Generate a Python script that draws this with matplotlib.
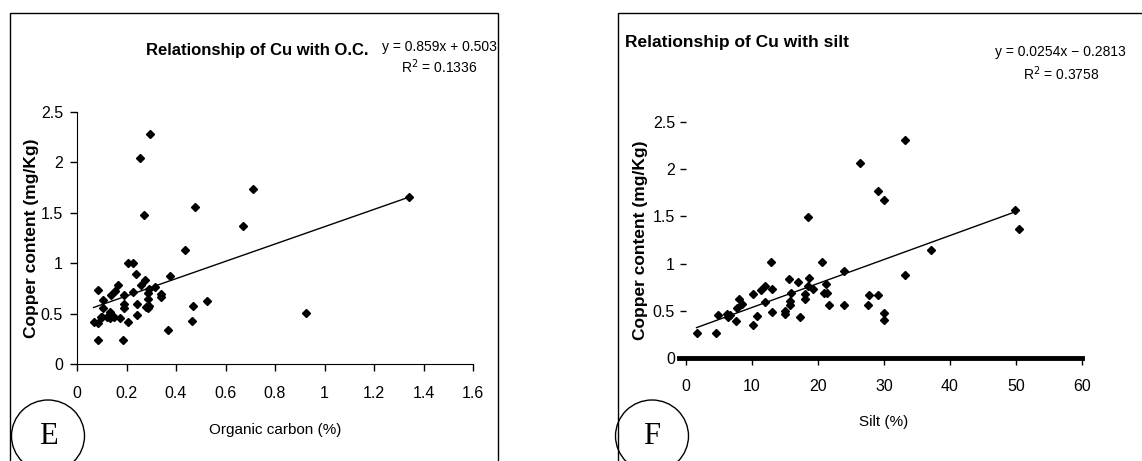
import numpy as np
import matplotlib
matplotlib.use("Agg")
from matplotlib import pyplot as plt
from matplotlib.patches import Rectangle, Ellipse

# panel E : copper vs organic carbon
oc = [0.295, 0.255, 0.269, 0.71, 0.477, 0.669, 0.435, 1.341, 0.927, 0.524,
      0.467, 0.466, 0.368, 0.374, 0.338, 0.338, 0.315, 0.288, 0.288, 0.285,
      0.277, 0.273, 0.26, 0.237, 0.225, 0.205, 0.242, 0.244, 0.205, 0.189,
      0.189, 0.189, 0.187, 0.226, 0.166, 0.174, 0.155, 0.136, 0.135, 0.135,
      0.15, 0.105, 0.105, 0.098, 0.085, 0.085, 0.084, 0.067, 0.29, 0.29,
      0.12, 0.1]
cu_oc = [2.28, 2.04, 1.48, 1.74, 1.56, 1.37, 1.13, 1.66, 0.505, 0.627,
         0.58, 0.43, 0.34, 0.874, 0.69, 0.66, 0.76, 0.70, 0.64, 0.56,
         0.57, 0.83, 0.78, 0.894, 1.0, 1.0, 0.6, 0.49, 0.415, 0.686,
         0.60, 0.554, 0.24, 0.71, 0.785, 0.46, 0.726, 0.68, 0.52, 0.455,
         0.465, 0.63, 0.554, 0.465, 0.73, 0.24, 0.405, 0.415, 0.74, 0.58,
         0.47, 0.47]
fit_oc = [0.859, 0.503]
eq_oc = ["y = 0.859x + 0.503", "R$^2$ = 0.1336"]
ticks_oc = ["0", "0.2", "0.4", "0.6", "0.8", "1", "1.2", "1.4", "1.6"]

# panel F : copper vs silt
silt = [33.2, 26.4, 29.1, 30.0, 18.5, 49.9, 50.4, 37.1, 33.2, 12.9,
        20.6, 24.0, 21.2, 21.3, 20.9, 21.6, 24.0, 27.7, 29.1, 27.5,
        30.0, 30.0, 17.2, 18.6, 19.2, 18.5, 18.1, 18.1, 16.9, 15.6,
        15.8, 15.8, 15.9, 15.0, 15.0, 13.1, 13.0, 12.0, 11.4, 12.0,
        10.2, 10.7, 10.1, 8.5, 8.1, 7.7, 7.5, 6.6, 6.3, 6.2,
        4.8, 4.6, 1.6]
cu_silt = [2.31, 2.07, 1.77, 1.67, 1.49, 1.57, 1.37, 1.14, 0.88, 1.02,
           1.02, 0.92, 0.785, 0.687, 0.687, 0.56, 0.56, 0.67, 0.67, 0.56,
           0.475, 0.40, 0.433, 0.845, 0.73, 0.76, 0.676, 0.62, 0.80, 0.84,
           0.60, 0.56, 0.69, 0.50, 0.47, 0.735, 0.49, 0.76, 0.72, 0.59,
           0.676, 0.44, 0.345, 0.574, 0.627, 0.528, 0.394, 0.458, 0.433, 0.468,
           0.458, 0.264, 0.264]
fit_silt = [0.0254, 0.2813]
eq_silt = ["y = 0.0254x \u2212 0.2813", "R$^2$ = 0.3758"]
ticks_silt = ["0", "10", "20", "30", "40", "50", "60"]

cu_ticks = ["0", "0.5", "1", "1.5", "2", "2.5"]

plt.rcParams["font.family"] = ["Liberation Sans", "DejaVu Sans"]

W, H = 1142, 461
fig = plt.figure(figsize=(W / 100, H / 100), dpi=100)


def fx(px):
    return px / W


def fy(py):
    return 1 - py / H


# outer frames
fig.patches.append(Rectangle((fx(10), fy(470)), fx(488), fy(13) - fy(470),
                             transform=fig.transFigure, fill=False, lw=1, ec="black"))
fig.patches.append(Rectangle((fx(618), fy(470)), fx(560), fy(13) - fy(470),
                             transform=fig.transFigure, fill=False, lw=1, ec="black"))

ax1 = fig.add_axes([fx(77), fy(364), fx(473) - fx(77), fy(112) - fy(364)])
ax2 = fig.add_axes([fx(686), fy(358), fx(1082) - fx(686), fy(122) - fy(358)])

for ax, xs, ys, fit, xlim, xt, xtl in [(ax1, oc, cu_oc, fit_oc, 1.6, np.linspace(0, 1.6, 9), ticks_oc),
                                       (ax2, silt, cu_silt, fit_silt, 60, np.arange(0, 61, 10), ticks_silt)]:
    ax.plot(xs, ys, ls="none", marker="D", ms=3.8, color="black")
    lx = np.array([min(xs), max(xs)])
    ax.plot(lx, fit[0] * lx + fit[1], color="black", lw=1)
    ax.set_xlim(0, xlim)
    ax.set_ylim(0, 2.5)
    ax.set_xticks(xt)
    ax.set_xticklabels(xtl)
    ax.set_yticks([0, 0.5, 1, 1.5, 2, 2.5])
    ax.set_yticklabels(cu_ticks)
    ax.spines["top"].set_visible(False)
    ax.spines["right"].set_visible(False)
    ax.patch.set_alpha(0)
    ax.tick_params(direction="out", length=5, width=1, labelsize=11.5)
    ax.tick_params(axis="x", pad=11)
    ax.tick_params(axis="y", pad=5)
    ax.set_ylabel("Copper content (mg/Kg)", fontsize=12.5, fontweight="bold")
    ax.yaxis.set_label_coords(-0.097, 0.5)

ax2.spines["left"].set_visible(False)
ax2.spines["bottom"].set_linewidth(3.5)
ax2.spines["bottom"].set_bounds(-1.0, 60)
ax2.tick_params(axis="y", length=4, pad=4)
ax2.tick_params(axis="x", pad=10)

ax1.set_xlabel("Organic carbon (%)", fontsize=11)
ax1.xaxis.set_label_coords(0.5, -0.234)
ax2.set_xlabel("Silt (%)", fontsize=11)
ax2.xaxis.set_label_coords(0.5, -0.241)

# titles and fit equations
fig.text(fx(257), fy(51), "Relationship of Cu with O.C.", ha="center", va="center",
         fontsize=12, fontweight="bold")
fig.text(fx(625), fy(43), "Relationship of Cu with silt", ha="left", va="center",
         fontsize=12.5, fontweight="bold")
fig.text(fx(439), fy(47), eq_oc[0], ha="center", va="center", fontsize=10)
fig.text(fx(439), fy(67), eq_oc[1], ha="center", va="center", fontsize=10)
fig.text(fx(1060), fy(52), eq_silt[0], ha="center", va="center", fontsize=10)
fig.text(fx(1061), fy(74), eq_silt[1], ha="center", va="center", fontsize=10)

# panel letters in circles
for cx, letter in [(48, "E"), (652, "F")]:
    fig.patches.append(Ellipse((fx(cx), fy(436)), fx(73), fy(0) - fy(72),
                               transform=fig.transFigure, fill=False, lw=1, ec="black"))
    fig.text(fx(cx), fy(436), letter, ha="center", va="center", fontsize=22,
             family="Liberation Serif")

fig.savefig("out.png", dpi=100)
